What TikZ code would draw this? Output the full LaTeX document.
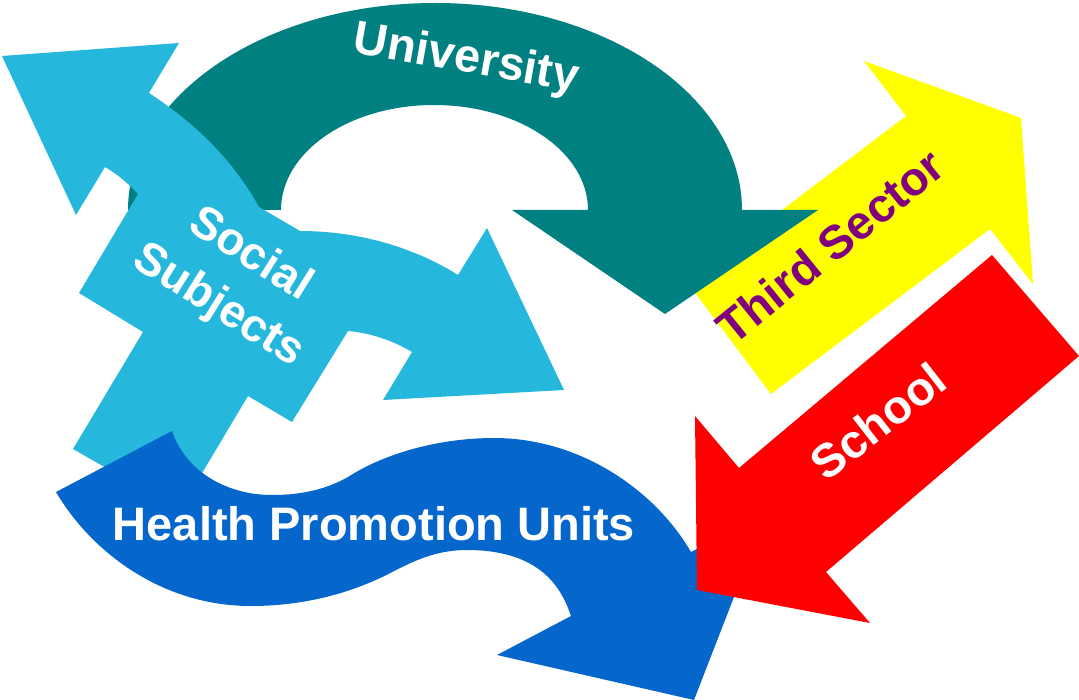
\documentclass[tikz,border=0pt]{standalone}
\usepackage{fontspec}
\setmainfont{Liberation Sans}
\definecolor{cteal}{HTML}{008080}
\definecolor{csky}{HTML}{26B7DD}
\definecolor{cblue}{HTML}{0566CC}
\definecolor{cyel}{HTML}{FFFF00}
\definecolor{cred}{HTML}{FF0000}
\definecolor{cpur}{HTML}{800080}
\tikzset{
  shapefill/.style={fill=#1,draw=none},
  lab/.style={font=\fontsize{#1}{60}\selectfont\bfseries,text=white,inner sep=0pt,align=center},
}
\begin{document}
\begin{tikzpicture}[x=1pt,y=-1pt]
\useasboundingbox (0,0) rectangle (1079,700);
% yellow
\path[shapefill=cyel] (864,61) -- (1021,118) -- (1033,284) -- (990,229) -- (771,394) -- (687,282) -- (906,116) -- cycle;
% teal
\path[shapefill=cteal] (128,210) .. controls (128,96) and (265,3) .. (435,3)
  .. controls (605,3) and (742,96) .. (742,210) -- (818,210) -- (665,314) -- (512,210) -- (588,210)
  .. controls (588,152) and (519,105) .. (434,105)
  .. controls (349,105) and (281,152) .. (281,210) -- cycle;
% sky blue
\path[shapefill=csky] (2,56) -- (179,43) -- (149,93)
  .. controls (190,120) and (230,155) .. (259,207) -- (300,231)
  .. controls (360,231) and (415,248) .. (458,275)
  -- (487,228) -- (564,390) -- (383,400) -- (412,352)
  .. controls (392,340) and (370,333) .. (348,331)
  -- (292,422) -- (248,396) -- (180,510) -- (73,449) -- (143,332) -- (79,293) -- (138,194)
  .. controls (128,183) and (117,174) .. (105,167)
  -- (76,215) -- cycle;
% blue
\path[shapefill=cblue] (56,492) -- (172,431)
  .. controls (185,470) and (225,495) .. (272,495)
  .. controls (300,495) and (325,490) .. (348,477)
  .. controls (385,453) and (440,438) .. (494,438)
  .. controls (580,438) and (655,490) .. (691,552)
  -- (767,512) -- (694,700) -- (497,655) -- (571,616)
  .. controls (563,593) and (545,550) .. (467,550)
  .. controls (440,550) and (420,558) .. (396,570)
  .. controls (350,595) and (300,606) .. (251,606)
  .. controls (160,606) and (90,550) .. (56,492) -- cycle;
% red
\path[shapefill=cred] (992,255) -- (1079,356) -- (826,572) -- (870,623) -- (697,590) -- (695,416) -- (739,468) -- cycle;
% labels
\node[lab=47,rotate=-10] (uni) at (466,60) {University};
\node[lab=47] (hpu) at (374,524) {Health Promotion Units};
\node[lab=46,rotate=-32] (soc) at (234,281) {Social\\Subjects};
\node[lab=47,rotate=39,text=cpur] (third) at (830,246) {Third Sector};
\node[lab=47,rotate=38] (school) at (878,421) {School};
\end{tikzpicture}
\end{document}
